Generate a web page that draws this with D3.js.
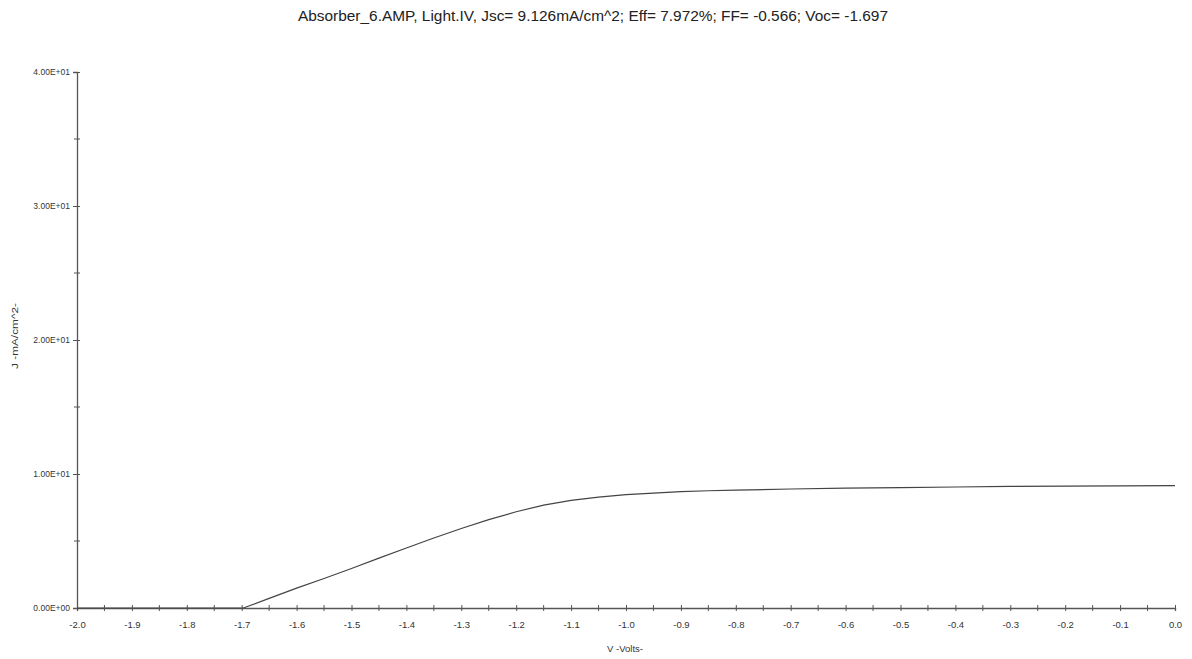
<!DOCTYPE html>
<html><head><meta charset="utf-8">
<script src="https://cdn.jsdelivr.net/npm/d3@7/dist/d3.min.js"></script>
<style>body{margin:0;background:#fff;}svg{display:block;font-family:"Liberation Sans",Arial,sans-serif;}</style>
</head><body>
<svg id="c" width="1192" height="659"></svg>
<script>
const titleText = "Absorber_6.AMP, Light.IV, Jsc= 9.126mA/cm^2; Eff= 7.972%; FF= -0.566; Voc= -1.697";
const xLabel = "V -Volts-";
const yLabel = "J -mA/cm^2-";
const voltage = [-2.0,-1.9,-1.8,-1.697,-1.65,-1.6,-1.55,-1.5,-1.45,-1.4,-1.35,-1.3,-1.25,-1.2,-1.15,-1.1,-1.05,-1.0,-0.95,-0.9,-0.85,-0.8,-0.7,-0.6,-0.5,-0.4,-0.3,-0.2,-0.1,0.0];
const current = [0,0,0,0,0.72,1.48,2.2,2.95,3.72,4.48,5.22,5.93,6.6,7.18,7.68,8.03,8.28,8.46,8.58,8.68,8.75,8.8,8.88,8.94,8.99,9.03,9.07,9.09,9.11,9.13];
const xTicks = [-2.0,-1.9,-1.8,-1.7,-1.6,-1.5,-1.4,-1.3,-1.2,-1.1,-1.0,-0.9,-0.8,-0.7,-0.6,-0.5,-0.4,-0.3,-0.2,-0.1,0.0];
const xTickLabels = ["-2.0","-1.9","-1.8","-1.7","-1.6","-1.5","-1.4","-1.3","-1.2","-1.1","-1.0","-0.9","-0.8","-0.7","-0.6","-0.5","-0.4","-0.3","-0.2","-0.1","0.0"];
const yTicks = [0,10,20,30,40];
const yTickLabels = ["0.00E+00","1.00E+01","2.00E+01","3.00E+01","4.00E+01"];

const svg = d3.select("#c");
const x = d3.scaleLinear().domain([-2,0]).range([77,1175]);
const y = d3.scaleLinear().domain([0,40]).range([608,72]);
const axisColor = "#555";
const textColor = "#333";

svg.append("text").attr("x",593).attr("y",20.5).attr("text-anchor","middle")
  .attr("font-size",15.5).attr("fill","#222")
  .attr("textLength",590).attr("lengthAdjust","spacingAndGlyphs").text(titleText);

// y axis
const gy = svg.append("g").attr("transform","translate(77,0)")
  .call(d3.axisLeft(y).tickValues(yTicks).tickFormat((d,i)=>yTickLabels[i]).tickSize(4).tickPadding(3));
gy.select(".domain").attr("stroke",axisColor).attr("stroke-width",1.3);
gy.selectAll(".tick line").attr("stroke",axisColor).attr("x2",-4).attr("x1",3);
gy.selectAll(".tick text").attr("font-size",8.5).attr("fill",textColor).attr("font-family","Liberation Sans, Arial");
const yMinor = d3.range(5,40,10);
svg.append("g").selectAll("line").data(yMinor).join("line")
  .attr("x1",74).attr("x2",80).attr("y1",d=>y(d)).attr("y2",d=>y(d)).attr("stroke",axisColor);

// x axis
const gx = svg.append("g").attr("transform","translate(0,608)")
  .call(d3.axisBottom(x).tickValues(xTicks).tickFormat((d,i)=>xTickLabels[i]).tickSize(3).tickPadding(10));
gx.select(".domain").attr("stroke",axisColor).attr("stroke-width",1.3);
gx.selectAll(".tick line").attr("stroke",axisColor).attr("y1",-3).attr("y2",3);
gx.selectAll(".tick text").attr("font-size",9.5).attr("fill",textColor).attr("font-family","Liberation Sans, Arial");
const xMinor = d3.range(-1.95,0,0.1);
svg.append("g").selectAll("line").data(xMinor).join("line")
  .attr("x1",d=>x(d)).attr("x2",d=>x(d)).attr("y1",605).attr("y2",611).attr("stroke",axisColor);

// labels
svg.append("text").attr("x",625).attr("y",652).attr("text-anchor","middle")
  .attr("font-size",9.5).attr("fill",textColor).text(xLabel);
svg.append("text").attr("transform","translate(18,336) rotate(-90)").attr("text-anchor","middle")
  .attr("font-size",9).attr("fill",textColor).attr("textLength",66).attr("lengthAdjust","spacingAndGlyphs").text(yLabel);

// curve
const pts = voltage.map((v,i)=>[v,current[i]]);
svg.append("path").datum(pts)
  .attr("d", d3.line().x(d=>x(d[0])).y(d=>y(d[1])))
  .attr("fill","none").attr("stroke","#444").attr("stroke-width",1.2);
</script>
</body></html>
